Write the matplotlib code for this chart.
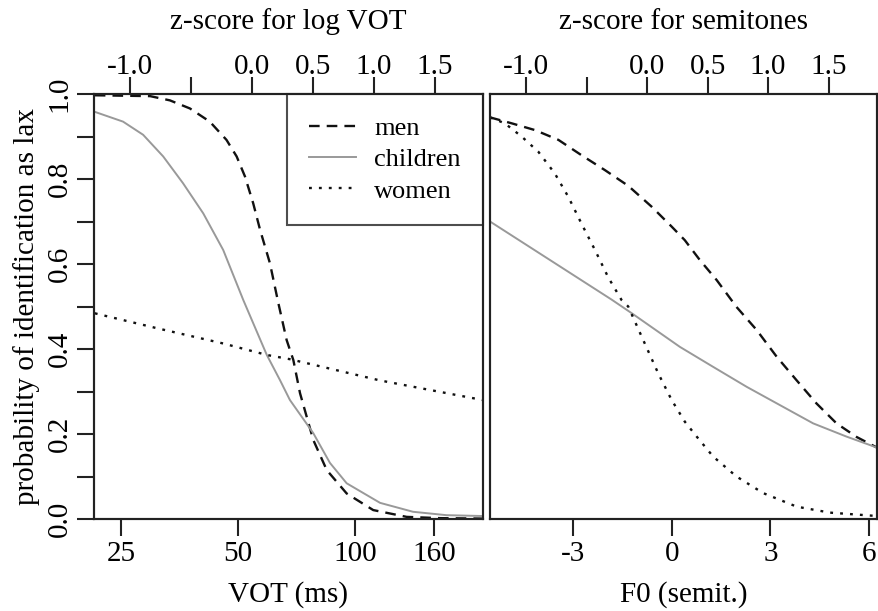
import numpy as np
import matplotlib
matplotlib.use("Agg")
import matplotlib.pyplot as plt

plt.rcParams['font.family'] = ['Liberation Serif', 'DejaVu Serif']

# left panel: VOT (ms)
vot_men = [21.4, 29.7, 33.4, 37.6, 42.3, 46.7, 49.6, 52.1, 54.7, 57.0, 60.4, 63.5,
           66.7, 69.4, 72.2, 78.1, 84.6, 95.2, 111.4, 135.8, 165.5, 213]
p_vot_men = [0.997, 0.995, 0.985, 0.966, 0.935, 0.892, 0.853, 0.806, 0.743, 0.680,
             0.602, 0.508, 0.421, 0.374, 0.296, 0.186, 0.115, 0.060, 0.021, 0.005,
             0.002, 0.001]

vot_children = [21.4, 25.3, 28.5, 32.1, 36.1, 40.7, 45.8, 51.6, 59.3, 64.1, 68.0,
                78.1, 86.2, 95.2, 116, 141, 172, 213]
p_vot_children = [0.958, 0.935, 0.904, 0.853, 0.790, 0.719, 0.633, 0.515, 0.386,
                  0.327, 0.280, 0.202, 0.132, 0.084, 0.038, 0.017, 0.009, 0.007]

vot_women = [21.4, 30.9, 45.8, 59.3, 68.0, 116, 213]
p_vot_women = [0.484, 0.449, 0.413, 0.386, 0.376, 0.326, 0.280]

# right panel: F0 (semitones)
f0_men = [-5.52, -4.86, -4.15, -3.44, -2.74, -2.03, -1.32, -0.61, 0.0, 0.40, 0.86,
          1.37, 1.97, 2.58, 3.19, 3.79, 4.40, 5.01, 5.62, 6.24]
p_f0_men = [0.945, 0.931, 0.915, 0.892, 0.856, 0.821, 0.784, 0.735, 0.688, 0.656,
            0.609, 0.562, 0.499, 0.445, 0.382, 0.327, 0.272, 0.225, 0.193, 0.168]

f0_children = [-5.52, -1.82, -1.21, 0.25, 1.26, 2.28, 3.29, 4.30, 5.31, 6.24]
p_f0_children = [0.700, 0.516, 0.484, 0.405, 0.358, 0.311, 0.268, 0.225, 0.194, 0.168]

f0_women = [-5.52, -5.07, -4.56, -4.05, -3.55, -3.14, -2.74, -2.33, -1.93, -1.52,
            -1.32, -0.91, -0.41, 0.0, 0.40, 0.76, 1.26, 1.97, 2.78, 3.80, 4.81, 6.24]
p_f0_women = [0.945, 0.931, 0.900, 0.864, 0.813, 0.758, 0.695, 0.633, 0.569, 0.515,
              0.500, 0.429, 0.343, 0.280, 0.229, 0.194, 0.147, 0.100, 0.061, 0.029,
              0.015, 0.007]

vot_ticks = [25, 50, 100, 160]
f0_ticks = [-3, 0, 3, 6]
z_ticks = [-1.0, -0.5, 0.0, 0.5, 1.0, 1.5]
z_labels = ['-1.0', '', '0.0', '0.5', '1.0', '1.5']
y_ticks = np.round(np.arange(0, 1.01, 0.1), 1)
y_labels = ['%.1f' % v if i % 2 == 0 else '' for i, v in enumerate(y_ticks)]

fs = 21
gray = '#999999'
dash = (0, (4.5, 3))
dot = (0, (1.2, 3))

fig = plt.figure(figsize=(8.79, 6.11), dpi=100)
ax1 = fig.add_axes([94/879, 1-519/611, (483-94)/879, (519-94)/611])
ax2 = fig.add_axes([490/879, 1-519/611, (877-490)/879, (519-94)/611])

def style(ax):
    for s in ax.spines.values():
        s.set_linewidth(1.5)
        s.set_color('#222222')
    ax.tick_params(direction='out', length=12.5, width=1.5, color='#222222',
                   labelsize=fs, pad=3)

# left
ax1.plot(vot_men, p_vot_men, color='#111111', lw=1.7, ls=dash, label='men')
ax1.plot(vot_children, p_vot_children, color=gray, lw=1.4, label='children')
ax1.plot(vot_women, p_vot_women, color='#111111', lw=1.7, ls=dot, label='women')
ax1.set_xscale('log')
ax1.set_xlim(21.3, 213.5)
ax1.set_ylim(0, 1)
ax1.set_xticks(vot_ticks)
ax1.set_xticklabels([str(v) for v in vot_ticks])
ax1.xaxis.set_minor_locator(matplotlib.ticker.NullLocator())
ax1.set_yticks(y_ticks)
ax1.set_yticklabels(y_labels, rotation=90, va='center')
style(ax1)
ax1.set_xlabel('VOT (ms)', fontsize=fs, labelpad=10.5)
ax1.set_ylabel('probability of identification as lax', fontsize=fs, labelpad=5)

leg = ax1.legend(loc='upper right', bbox_to_anchor=(1, 1), borderaxespad=0,
                 fontsize=19, frameon=True, fancybox=False, handlelength=1.75,
                 handletextpad=0.7, labelspacing=0.3, borderpad=0.85)
leg.get_frame().set_edgecolor('#222222')
leg.get_frame().set_linewidth(1.5)

t1 = ax1.twiny()
t1.set_xlim(-1.295, 1.893)
t1.set_xticks(z_ticks)
t1.set_xticklabels(z_labels)
style(t1)
t1.tick_params(pad=-2.5)
t1.set_xlabel('z-score for log VOT', fontsize=fs, labelpad=18)

# right
ax2.plot(f0_men, p_f0_men, color='#111111', lw=1.7, ls=dash)
ax2.plot(f0_children, p_f0_children, color=gray, lw=1.4)
ax2.plot(f0_women, p_f0_women, color='#111111', lw=1.7, ls=dot)
ax2.set_xlim(-5.52, 6.24)
ax2.set_ylim(0, 1)
ax2.set_xticks(f0_ticks)
ax2.set_xticklabels([str(v) for v in f0_ticks])
ax2.set_yticks([])
style(ax2)
ax2.set_xlabel('F0 (semit.)', fontsize=fs, labelpad=10.5)

t2 = ax2.twiny()
t2.set_xlim(-1.298, 1.90)
t2.set_xticks(z_ticks)
t2.set_xticklabels(z_labels)
style(t2)
t2.tick_params(pad=-2.5)
t2.set_xlabel('z-score for semitones', fontsize=fs, labelpad=18)

fig.savefig('out.png', dpi=100)
